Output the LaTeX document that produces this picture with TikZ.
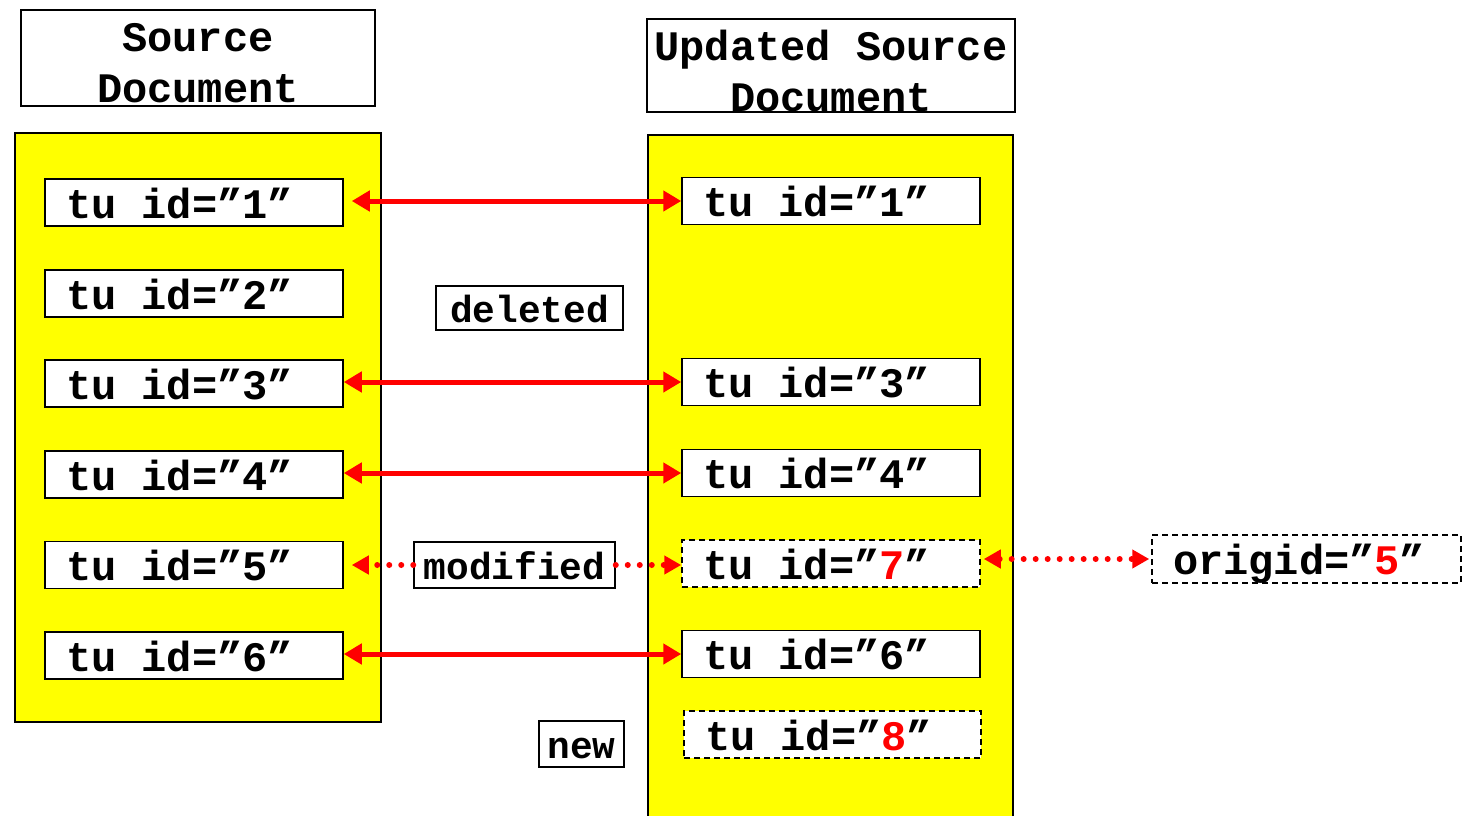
\documentclass[tikz,border=0pt]{standalone}
\usepackage{fontspec}
\newfontfamily\cour{Liberation Mono}
\usetikzlibrary{arrows.meta}
\definecolor{ylw}{RGB}{255,255,0}
\definecolor{rd}{RGB}{255,0,0}
\newcommand{\msp}{\hspace*{0.6em}}
\begin{document}
\begin{tikzpicture}[x=1pt,y=-1pt,
  bigfont/.style={font=\cour\bfseries\fontsize{42}{51}\selectfont},
  smallfont/.style={font=\cour\bfseries\fontsize{37.8}{45}\selectfont},
  hdrbox/.style={draw,line width=1.5pt,fill=white,inner sep=0pt},
  hdrtext/.style={bigfont,align=center,inner sep=0pt,anchor=north},
  ybox/.style={draw,line width=1.5pt,fill=ylw,inner sep=0pt},
  tubox/.style={draw,line width=1.5pt,fill=white,bigfont,text width=256pt,inner xsep=21pt,inner ysep=0pt,minimum height=47pt,align=left,text height=31pt,text depth=0pt},
  dashbox/.style={tubox,dash pattern=on 6pt off 4pt},
  lblbox/.style={draw,line width=1.5pt,fill=white,smallfont,inner sep=0pt,minimum height=45pt,text height=28pt,text depth=0pt},
  sarr/.style={draw=rd,line width=5pt,{Triangle[length=18pt,width=20pt]}-{Triangle[length=18pt,width=20pt]}},
  darr/.style={draw=rd,line width=6pt,dash pattern=on 0pt off 12pt,line cap=round}
]
\useasboundingbox (0,0) rectangle (1467,815);
\fill[white] (0,0) rectangle (1467,815);

% headers
\node[hdrbox,minimum width=354pt,minimum height=96pt] (srch) at (198,58) {};
\node[hdrtext] (srct) at (198,23) {Source\\Document};
\node[hdrbox,minimum width=368pt,minimum height=93pt] (updh) at (831,65.5) {};
\node[hdrtext] (updt) at (831,30) {Updated\msp Source\\Document};

% yellow boxes
\node[ybox,minimum width=366pt,minimum height=589pt] (L) at (198,427.5) {};
\node[ybox,minimum width=365pt,minimum height=690pt] (R) at (830.5,480) {};

% left units
\node[tubox] (l1) at (194,202.5) {tu\msp id=”1”};
\node[tubox] (l2) at (194,293.5) {tu\msp id=”2”};
\node[tubox] (l3) at (194,383.5) {tu\msp id=”3”};
\node[tubox] (l4) at (194,474.5) {tu\msp id=”4”};
\node[tubox] (l5) at (194,565) {tu\msp id=”5”};
\node[tubox] (l6) at (194,655.5) {tu\msp id=”6”};

% right units
\node[tubox] (r1) at (831,201) {tu\msp id=”1”};
\node[tubox] (r3) at (831,382) {tu\msp id=”3”};
\node[tubox] (r4) at (831,473) {tu\msp id=”4”};
\node[dashbox] (r7) at (831,563.5) {tu\msp id=”{\color{rd}7}”};
\node[tubox] (r6) at (831,654) {tu\msp id=”6”};
\node[dashbox,text width=255pt] (r8) at (832.5,734.5) {tu\msp id=”{\color{rd}8}”};

% labels
\node[lblbox,minimum width=187pt,minimum height=44pt] (del) at (529.5,308) {deleted};
\node[lblbox,minimum width=201pt,minimum height=46pt] (mod) at (514.5,565) {modified};
\node[lblbox,minimum width=85pt,minimum height=46pt] (new) at (581.5,744) {new};
\node[dashbox,text width=267pt,minimum height=48pt] (orig) at (1306.5,559) {origid=”{\color{rd}5}”};

% solid arrows
\draw[sarr,shorten <=8pt] (l1.east |- r1.west) -- (r1.west);
\draw[sarr] (l3.east |- r3.west) -- (r3.west);
\draw[sarr] (l4.east |- r4.west) -- (r4.west);
\draw[sarr] (l6.east |- r6.west) -- (r6.west);

% dotted arrows
\draw[darr,-{Triangle[length=17pt,width=18pt]}] (mod.west) -- ([xshift=8pt]l5.east |- mod.west);
\draw[darr,-{Triangle[length=17pt,width=18pt]}] (mod.east) -- (mod.east -| r7.west);
\draw[darr,{Triangle[length=17pt,width=18pt]}-{Triangle[length=17pt,width=18pt]},shorten <=3pt,shorten >=2pt] (r7.east |- orig.west) -- (orig.west);
\end{tikzpicture}
\end{document}
